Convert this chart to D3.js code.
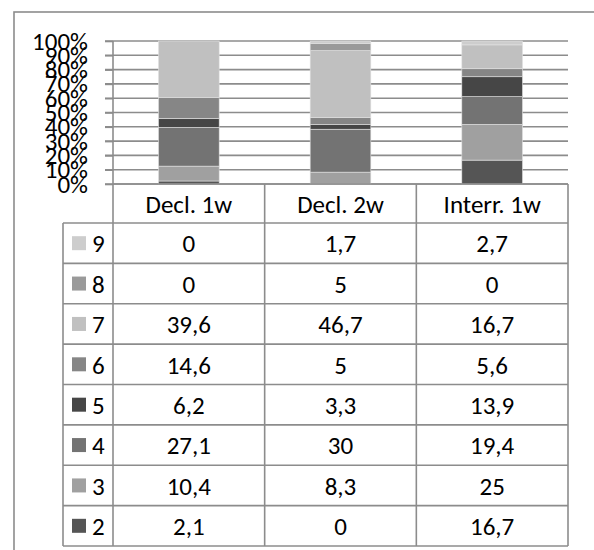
<!DOCTYPE html>
<html>
<head>
<meta charset="utf-8">
<script src="https://cdn.jsdelivr.net/npm/d3@7"></script>
<style>
  html, body { margin: 0; padding: 0; background: #fff; }
  svg { display: block; font-family: Carlito, Calibri, Lato, sans-serif; }
</style>
</head>
<body>
<svg id="chart" width="594" height="550"></svg>
<script>
const categories = ["Decl. 1w", "Decl. 2w", "Interr. 1w"];
const seriesNames = ["2", "3", "4", "5", "6", "7", "8", "9"];
const s2 = [2.1, 0, 16.7];
const s3 = [10.4, 8.3, 25];
const s4 = [27.1, 30, 19.4];
const s5 = [6.2, 3.3, 13.9];
const s6 = [14.6, 5, 5.6];
const s7 = [39.6, 46.7, 16.7];
const s8 = [0, 5, 0];
const s9 = [0, 1.7, 2.7];
const seriesValues = [s2, s3, s4, s5, s6, s7, s8, s9];
const seriesLabels = [
  ["2,1", "0", "16,7"],
  ["10,4", "8,3", "25"],
  ["27,1", "30", "19,4"],
  ["6,2", "3,3", "13,9"],
  ["14,6", "5", "5,6"],
  ["39,6", "46,7", "16,7"],
  ["0", "5", "0"],
  ["0", "1,7", "2,7"]
];
const yTicks = [0, 0.1, 0.2, 0.3, 0.4, 0.5, 0.6, 0.7, 0.8, 0.9, 1];
const colors = ["#555555", "#a0a0a0", "#737373", "#464646", "#868686", "#c0c0c0", "#9a9a9a", "#cdcdcd"];

const svg = d3.select("#chart");
const lineColor = "#8c8c8c";
const fontSize = 25;

// outer frame (runs off the right and bottom edges)
svg.append("rect")
  .attr("x", 14).attr("y", 12)
  .attr("width", 620).attr("height", 580)
  .attr("fill", "none").attr("stroke", lineColor).attr("stroke-width", 1.6);

const plotLeft = 113, plotRight = 568, plotTop = 41, plotBottom = 184;
const tableLeft = 63, headerBottom = 223, tableBottom = 546;

const x = d3.scaleBand().domain(categories).range([plotLeft, plotRight])
  .paddingInner(0.6).paddingOuter(0.3);
const y = d3.scaleLinear().domain([0, 1]).range([plotBottom, plotTop]);

// gridlines
svg.append("g").selectAll("line")
  .data(yTicks).join("line")
  .attr("x1", plotLeft - 8).attr("x2", plotRight)
  .attr("y1", d => y(d)).attr("y2", d => y(d))
  .attr("stroke", lineColor).attr("stroke-width", 1.6);

// stacked bars (normalised to 100%)
const rows = categories.map((c, i) => {
  const r = { cat: c };
  seriesNames.forEach((s, j) => r[s] = seriesValues[j][i]);
  return r;
});
const stacked = d3.stack().keys(seriesNames).offset(d3.stackOffsetExpand)(rows);

svg.append("g").selectAll("g")
  .data(stacked).join("g")
  .attr("fill", (d, i) => colors[i])
  .selectAll("rect")
  .data(d => d).join("rect")
  .attr("x", d => x(d.data.cat))
  .attr("width", x.bandwidth())
  .attr("y", d => y(d[1]))
  .attr("height", d => Math.max(0, y(d[0]) - y(d[1])))
  .attr("stroke", "#e2e2e2").attr("stroke-width", 0.6);

// y axis
const yAxis = svg.append("g")
  .attr("transform", `translate(${plotLeft},0)`)
  .call(d3.axisLeft(y).tickValues(yTicks).tickFormat(d3.format(".0%"))
    .tickSize(8).tickPadding(17));
yAxis.select(".domain").remove();
yAxis.attr("font-family", null);
yAxis.selectAll(".tick line").attr("stroke", lineColor).attr("stroke-width", 1.6);
yAxis.selectAll("text")
  .attr("font-size", fontSize).attr("fill", "#000");

// data table
const tbl = svg.append("g").attr("stroke", lineColor).attr("stroke-width", 1.6);
const rowH = (tableBottom - headerBottom) / seriesNames.length;
const tableOrder = seriesNames.map((s, i) => i).reverse();
const colEdges = categories.map(c => x(c) + x.bandwidth() / 2 + x.step() / 2);

// axis line continuing into the table
tbl.append("line").attr("x1", plotLeft).attr("x2", plotLeft).attr("y1", plotTop).attr("y2", tableBottom);
tbl.append("line").attr("x1", plotLeft).attr("x2", plotRight).attr("y1", plotBottom).attr("y2", plotBottom);
tbl.append("line").attr("x1", tableLeft).attr("x2", tableLeft).attr("y1", headerBottom).attr("y2", tableBottom);
tbl.selectAll(".vl").data(colEdges).join("line")
  .attr("x1", d => d).attr("x2", d => d)
  .attr("y1", plotBottom).attr("y2", tableBottom);
tbl.selectAll(".hl").data(d3.range(seriesNames.length + 1)).join("line")
  .attr("x1", tableLeft).attr("x2", plotRight)
  .attr("y1", d => headerBottom + d * rowH).attr("y2", d => headerBottom + d * rowH);

// header
svg.append("g").selectAll("text")
  .data(categories).join("text")
  .attr("x", d => x(d) + x.bandwidth() / 2)
  .attr("y", (plotBottom + headerBottom) / 2)
  .attr("dy", "0.36em")
  .attr("text-anchor", "middle")
  .attr("font-size", fontSize)
  .text(d => d);

// rows
const rowG = svg.append("g").selectAll("g")
  .data(tableOrder).join("g")
  .attr("transform", (d, i) => `translate(0,${headerBottom + i * rowH + rowH / 2})`);

rowG.append("rect")
  .attr("x", 72).attr("y", -7).attr("width", 14).attr("height", 14)
  .attr("fill", d => colors[d]);
rowG.append("text")
  .attr("x", 92).attr("dy", "0.37em")
  .attr("font-size", fontSize)
  .text(d => seriesNames[d]);
rowG.selectAll(".val")
  .data(d => seriesLabels[d].map((v, i) => ({ v, cat: categories[i] })))
  .join("text")
  .attr("x", d => x(d.cat) + x.bandwidth() / 2)
  .attr("dy", "0.37em")
  .attr("text-anchor", "middle")
  .attr("font-size", fontSize)
  .text(d => d.v);
</script>
</body>
</html>
